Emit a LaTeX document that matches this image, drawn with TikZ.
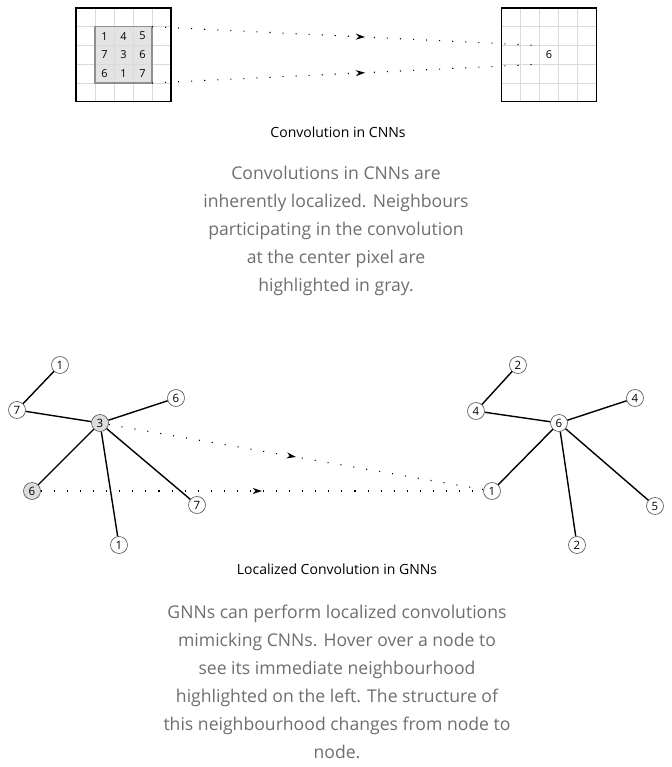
\documentclass[tikz,border=0pt]{standalone}
\usepackage{fontspec}
\setmainfont{Open Sans}
\usetikzlibrary{positioning,arrows.meta,decorations.markings}
\definecolor{cellGray}{HTML}{E3E3E3}
\definecolor{gridGray}{HTML}{DADADA}
\definecolor{winGray}{HTML}{8F8F8F}
\definecolor{textGray}{HTML}{6E6E6E}
\definecolor{nodeGray}{HTML}{DDDDDD}
\tikzset{
  gridline/.style={gridGray,line width=0.6pt},
  frame/.style={black,line width=1pt},
  cell/.style={rectangle,fill=cellGray,draw=gridGray,line width=0.6pt,minimum width=14.25pt,minimum height=14.06pt,inner sep=0pt,outer sep=0pt,font=\fontsize{8.2}{8}\selectfont},
  plaincell/.style={cell,fill=none,draw=none},
  gnode/.style={circle,draw=black!65,fill=white,line width=0.5pt,inner sep=0pt,minimum size=12.75pt,font=\fontsize{8.6}{8}\selectfont},
  hnode/.style={gnode,fill=nodeGray},
  edge/.style={line width=1.05pt},
  flow/.style={dash pattern=on 0.8pt off 9pt,line width=0.8pt,postaction={decorate},
    decoration={markings,mark=at position #1 with {\arrow{Stealth[length=7pt,width=4.5pt]}}}},
  flow/.default=0.5,
  caption/.style={font=\fontsize{10.5}{12}\selectfont},
  blurb/.style={align=center,text=textGray,font=\fontsize{13.2}{21}\selectfont}
}
\begin{document}
\begin{tikzpicture}[x=0.75pt,y=-0.75pt]
  \useasboundingbox (0,0) rectangle (671,767);
  % pixel grids
  \foreach \gx in {76,501.5} {
    \foreach \i in {1,...,4} {
      \draw[gridline] ({\gx+19*\i},8) -- ({\gx+19*\i},101.75);
      \draw[gridline] (\gx,{8+18.75*\i}) -- ({\gx+95},{8+18.75*\i});
    }
  }
  \foreach \r/\vals in {1/{1,4,5},2/{7,3,6},3/{6,1,7}}
    \foreach \v [count=\c] in \vals
      \node[cell] (c\r\c) at ({76+19*(\c+0.5)},{8+18.75*(\r+0.5)}) {\v};
  \draw[winGray,line width=0.8pt] (c11.north west) rectangle (c33.south east);
  \draw[frame] (76,8) rectangle (171,101.75);
  \draw[frame] (501.5,8) rectangle (596.5,101.75);
  \node[plaincell] (ctr) at ({501.5+19*2.5},{8+18.75*2.5}) {6};
  \draw[flow=0.55] (c13.north east) -- (ctr.north west);
  \draw[flow=0.55] (c33.south east) -- (ctr.south west);
  \node[caption] (cnnTitle) at (338,132) {Convolution in CNNs};
  \node[blurb] (cnnText) at (336,230.5) {Convolutions in CNNs are\\inherently localized. Neighbours\\participating in the convolution\\at the center pixel are\\highlighted in gray.};
  % graphs
  \node[hnode] (a3) at (100,423) {3};
  \node[gnode] (a1t) at (60,365) {1};
  \node[gnode] (a7t) at (17,410) {7};
  \node[gnode] (a6t) at (176,398) {6};
  \node[hnode] (a6) at (32,491) {6};
  \node[gnode] (a7) at (197,505) {7};
  \node[gnode] (a1) at (119,545) {1};
  \node[gnode] (b6) at (559,423) {6};
  \node[gnode] (b2t) at (518,365) {2};
  \node[gnode] (b4t) at (476,411) {4};
  \node[gnode] (b4) at (635,398) {4};
  \node[gnode] (b1) at (492,491) {1};
  \node[gnode] (b5) at (655,506) {5};
  \node[gnode] (b2) at (577,545) {2};
  \foreach \u/\v in {a1t/a7t,a7t/a3,a3/a6t,a3/a6,a3/a7,a3/a1,b2t/b4t,b4t/b6,b6/b4,b6/b1,b6/b5,b6/b2}
    \draw[edge] (\u) -- (\v);
  \draw[flow] (a3) -- (b1);
  \draw[flow] (a6) -- (b1);
  \node[caption] (gnnTitle) at (337,569) {Localized Convolution in GNNs};
  \node[blurb] (gnnText) at (337,682) {GNNs can perform localized convolutions\\mimicking CNNs. Hover over a node to\\see its immediate neighbourhood\\highlighted on the left. The structure of\\this neighbourhood changes from node to\\node.};
\end{tikzpicture}
\end{document}
